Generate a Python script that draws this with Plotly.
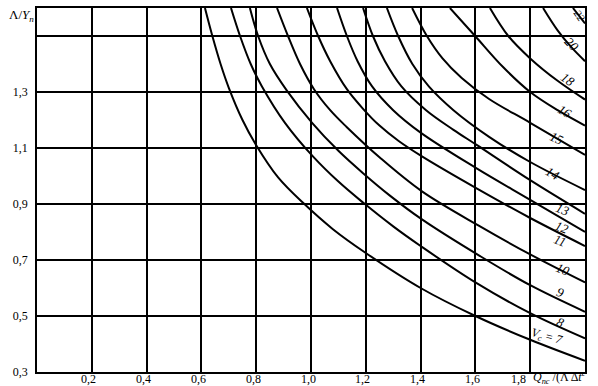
import plotly.graph_objects as go

# ---- axis ticks ----
x_ticks = [0.2, 0.4, 0.6, 0.8, 1.0, 1.2, 1.4, 1.6, 1.8]
x_tick_labels = ["0,2", "0,4", "0,6", "0,8", "1,0", "1,2", "1,4", "1,6", "1,8"]
y_ticks = [0.3, 0.5, 0.7, 0.9, 1.1, 1.3, 1.5]
y_tick_labels = ["0,3", "0,5", "0,7", "0,9", "1,1", "1,3", " "]

# ---- curves, one per v_c value ----
vc_values = [7, 8, 9, 10, 11, 12, 13, 14, 15, 16, 18, 20, 22]

vc7_x = [0.613, 0.64, 0.67, 0.70, 0.75, 0.80, 0.88, 0.97, 1.08, 1.20, 1.40, 1.60, 1.80, 2.00]
vc7_y = [1.60, 1.50, 1.40, 1.315, 1.20, 1.11, 0.995, 0.905, 0.81, 0.725, 0.60, 0.50, 0.415, 0.34]
vc8_x = [0.708, 0.741, 0.78, 0.821, 0.905, 1.007, 1.10, 1.19, 1.30, 1.40, 1.60, 1.80, 2.00]
vc8_y = [1.60, 1.50, 1.40, 1.32, 1.19, 1.07, 0.98, 0.905, 0.82, 0.75, 0.62, 0.51, 0.42]
vc9_x = [0.777, 0.807, 0.85, 0.912, 1.004, 1.10, 1.19, 1.288, 1.405, 1.617, 1.80, 2.00]
vc9_y = [1.60, 1.50, 1.40, 1.305, 1.19, 1.09, 1.01, 0.93, 0.845, 0.714, 0.61, 0.515]
vc10_x = [0.876, 0.916, 0.96, 1.011, 1.07, 1.13, 1.252, 1.405, 1.617, 1.80, 2.00]
vc10_y = [1.60, 1.50, 1.40, 1.31, 1.235, 1.175, 1.065, 0.945, 0.82, 0.72, 0.62]
vc11_x = [0.985, 1.026, 1.07, 1.131, 1.19, 1.25, 1.32, 1.405, 1.606, 1.80, 2.00]
vc11_y = [1.60, 1.50, 1.41, 1.31, 1.24, 1.18, 1.125, 1.07, 0.955, 0.85, 0.75]
vc12_x = [1.095, 1.131, 1.17, 1.223, 1.30, 1.40, 1.60, 1.80, 2.00]
vc12_y = [1.60, 1.50, 1.41, 1.32, 1.235, 1.155, 1.03, 0.915, 0.80]
vc13_x = [1.19, 1.226, 1.27, 1.33, 1.42, 1.52, 1.606, 1.80, 2.00]
vc13_y = [1.60, 1.50, 1.41, 1.32, 1.235, 1.165, 1.11, 0.985, 0.865]
vc14_x = [1.277, 1.318, 1.37, 1.43, 1.52, 1.65, 1.80, 2.00]
vc14_y = [1.60, 1.50, 1.40, 1.32, 1.235, 1.14, 1.05, 0.95]
vc15_x = [1.369, 1.423, 1.48, 1.55, 1.65, 1.80, 2.00]
vc15_y = [1.60, 1.50, 1.42, 1.35, 1.275, 1.19, 1.075]
vc16_x = [1.507, 1.599, 1.70, 1.80, 1.90, 2.00]
vc16_y = [1.60, 1.50, 1.39, 1.30, 1.235, 1.18]
vc18_x = [1.653, 1.72, 1.80, 1.90, 2.00]
vc18_y = [1.60, 1.50, 1.42, 1.34, 1.273]
vc20_x = [1.847, 1.90, 1.95, 2.00]
vc20_y = [1.60, 1.52, 1.46, 1.41]
vc22_x = [1.956, 2.00]
vc22_y = [1.60, 1.545]

curves_x = [vc7_x, vc8_x, vc9_x, vc10_x, vc11_x, vc12_x, vc13_x,
            vc14_x, vc15_x, vc16_x, vc18_x, vc20_x, vc22_x]
curves_y = [vc7_y, vc8_y, vc9_y, vc10_y, vc11_y, vc12_y, vc13_y,
            vc14_y, vc15_y, vc16_y, vc18_y, vc20_y, vc22_y]

# ---- curve label placement (layout) ----
label_pos = {
    7: (1.86, 0.425, 15), 8: (1.912, 0.478, 22), 9: (1.912, 0.585, 22),
    10: (1.92, 0.665, 22), 11: (1.909, 0.77, 22), 12: (1.916, 0.815, 22),
    13: (1.92, 0.882, 22), 14: (1.883, 1.01, 30), 15: (1.898, 1.135, 25),
    16: (1.927, 1.23, 30), 18: (1.938, 1.345, 35), 20: (1.953, 1.47, 45),
    22: (1.982, 1.572, 55),
}

FONT = "Liberation Serif"

fig = go.Figure()
for vc, xs, ys in zip(vc_values, curves_x, curves_y):
    fig.add_trace(go.Scatter(
        x=xs, y=ys, mode="lines",
        line=dict(color="black", width=2, shape="spline", smoothing=1.0),
        hoverinfo="skip", showlegend=False))

annotations = []
for vc in vc_values:
    lx, ly, ang = label_pos[vc]
    txt = "<i>V<sub>c</sub> = 7</i>" if vc == 7 else f"<i>{vc}</i>"
    size = 11 if vc == 22 else (12 if vc == 7 else 13)
    annotations.append(dict(x=lx, y=ly, xref="x", yref="y", text=txt,
                            showarrow=False, textangle=ang,
                            font=dict(family=FONT, size=size, color="black")))

for i, (v, t) in enumerate(zip(x_ticks, x_tick_labels)):
    shift = -12 if i == len(x_ticks) - 1 else -3
    annotations.append(dict(x=v, y=0, xref="x", yref="paper", text=t,
                            showarrow=False, xanchor="center", yanchor="top",
                            xshift=shift, yshift=2,
                            font=dict(family=FONT, size=12, color="black")))

annotations.append(dict(x=1.8, y=0, xref="x", yref="paper",
                        text="<i>Q</i><sub><i>nc</i></sub> /(Λ Δ<i>t</i><sup><i>c</i></sup>",
                        showarrow=False, xanchor="left", yanchor="top",
                        xshift=1, yshift=5,
                        font=dict(family=FONT, size=12, color="black")))

annotations.append(dict(x=0, y=1, xref="paper", yref="paper",
                        text="Λ/<i>Y</i><sub><i>n</i></sub>",
                        showarrow=False, xanchor="right", yanchor="middle",
                        xshift=-1, yshift=-7,
                        font=dict(family=FONT, size=13, color="black")))

fig.update_layout(
    width=598, height=386,
    margin=dict(l=37, r=13, t=6, b=14),
    paper_bgcolor="white", plot_bgcolor="white",
    annotations=annotations,
    xaxis=dict(range=[0, 2.0], tickvals=x_ticks, showticklabels=False,
               showgrid=True, gridcolor="black", gridwidth=1.5,
               showline=True, linecolor="black", linewidth=1.5, mirror=True,
               zeroline=False, ticks=""),
    yaxis=dict(range=[0.3, 1.6], tickvals=y_ticks, ticktext=y_tick_labels,
               showgrid=True, gridcolor="black", gridwidth=1.5,
               showline=True, linecolor="black", linewidth=1.5, mirror=True,
               zeroline=False, ticks="", ticklabelstandoff=5,
               tickfont=dict(family=FONT, size=12, color="black")),
)

fig.write_html("out.html")
